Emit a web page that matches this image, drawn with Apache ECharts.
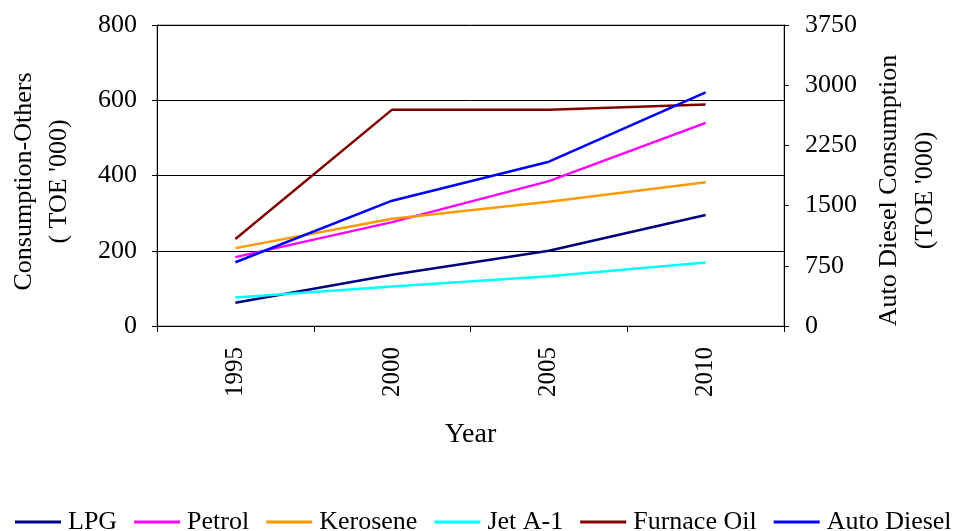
<!DOCTYPE html>
<html>
<head>
<meta charset="utf-8">
<script src="https://cdn.jsdelivr.net/npm/echarts@6/dist/echarts.min.js"></script>
<style>
  html, body { margin: 0; padding: 0; background: #fff; }
  #chart { width: 958px; height: 531px; }
</style>
</head>
<body>
<div id="chart"></div>
<script>
// Fuel consumption by year (TOE '000)
const years = ['1995', '2000', '2005', '2010'];
const lpg = [62, 136, 200, 295];
const petrol = [183, 276, 385, 540];
const kerosene = [207, 285, 330, 382];
const jetA1 = [76, 105, 132, 169];
const furnaceOil = [231, 575, 575, 589];
const autoDiesel = [794, 1561, 2047, 2911];   // right axis

const leftTicks = [0, 800, 200];
const rightTicks = [0, 3750, 750];

const font = 'Liberation Serif, Times New Roman, serif';

function line(name, data, color, axisIndex) {
  return {
    name: name, type: 'line', data: data, yAxisIndex: axisIndex,
    symbol: 'none', lineStyle: { color: color, width: 2.5 }, itemStyle: { color: color },
    z: 3
  };
}

const chart = echarts.init(document.getElementById('chart'));
chart.setOption({
  animation: false,
  textStyle: { fontFamily: font, color: '#000' },
  grid: {
    left: 157, right: 174, top: 25, bottom: 205,
    containLabel: false, outerBoundsMode: 'none',
    show: true, borderColor: '#808080', borderWidth: 1
  },
  legend: {
    top: 504, left: 10, itemWidth: 46, itemHeight: 3, itemGap: 17,
    icon: 'rect',
    textStyle: { fontFamily: font, fontSize: 26, color: '#000', padding: [0, 0, 0, 2] },
    data: ['LPG', 'Petrol', 'Kerosene', 'Jet A-1', 'Furnace Oil', 'Auto Diesel']
  },
  xAxis: {
    type: 'category', data: years, boundaryGap: true,
    name: 'Year', nameLocation: 'middle', nameGap: 95,
    nameTextStyle: { fontFamily: font, fontSize: 28, color: '#000' },
    axisLine: { lineStyle: { color: '#000', width: 1 } },
    axisTick: { show: true, length: 6, lineStyle: { color: '#000' } },
    axisLabel: { rotate: 90, fontFamily: font, fontSize: 25, color: '#000', margin: 21 },
    splitLine: { show: false }
  },
  yAxis: [{
    type: 'value', min: leftTicks[0], max: leftTicks[1], interval: leftTicks[2],
    name: 'Consumption-Others\n( TOE \'000)', nameLocation: 'middle', nameGap: 80, nameRotate: 90,
    nameTextStyle: { fontFamily: font, fontSize: 26, color: '#000', lineHeight: 35, padding: [0, 12, 0, 0] },
    axisLine: { show: true, lineStyle: { color: '#000' } },
    axisTick: { show: true, length: 5, lineStyle: { color: '#000' } },
    axisLabel: { fontFamily: font, fontSize: 26, color: '#000', margin: 20 },
    splitLine: { show: true, lineStyle: { color: '#000', width: 1 } }
  }, {
    type: 'value', min: rightTicks[0], max: rightTicks[1], interval: rightTicks[2],
    position: 'right',
    name: 'Auto Diesel Consumption\n(TOE \'000)', nameLocation: 'middle', nameGap: 87, nameRotate: 90,
    nameTextStyle: { fontFamily: font, fontSize: 26, color: '#000', lineHeight: 36, padding: [0, 30, 0, 0] },
    axisLine: { show: true, lineStyle: { color: '#000' } },
    axisTick: { show: true, length: 5, lineStyle: { color: '#000' } },
    axisLabel: { fontFamily: font, fontSize: 26, color: '#000', margin: 21, formatter: v => String(v) },
    splitLine: { show: false }
  }],
  series: [
    line('LPG', lpg, '#000080', 0),
    line('Petrol', petrol, '#FF00FF', 0),
    line('Kerosene', kerosene, '#FF9900', 0),
    line('Jet A-1', jetA1, '#00FFFF', 0),
    line('Furnace Oil', furnaceOil, '#800000', 0),
    line('Auto Diesel', autoDiesel, '#0000FF', 1)
  ]
});
</script>
</body>
</html>
